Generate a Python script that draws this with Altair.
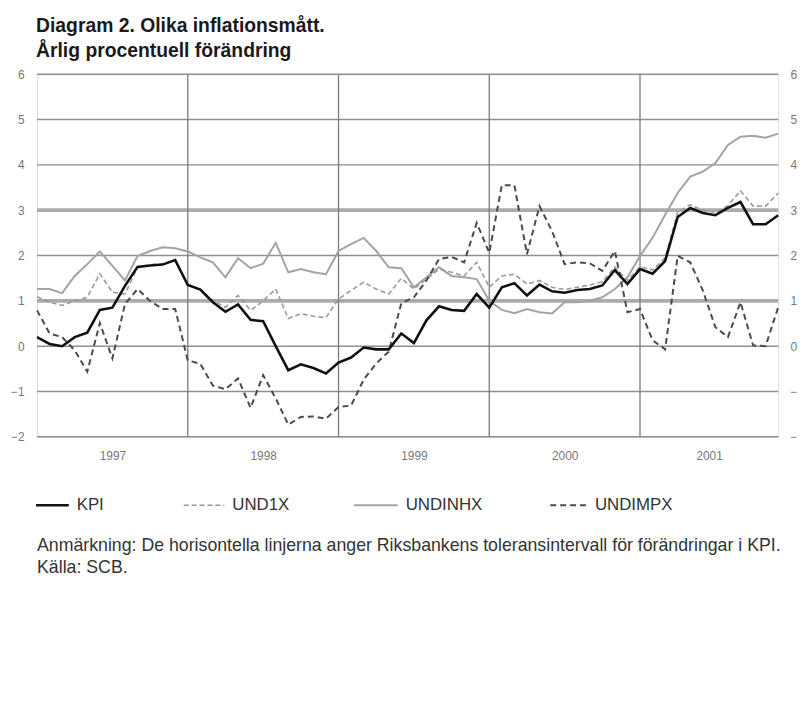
import altair as alt
import pandas as pd

# ---------------- data ----------------
years = [1997, 1998, 1999, 2000, 2001]
series_names = ["KPI", "UND1X", "UNDINHX", "UNDIMPX"]

kpi = [0.20, 0.05, 0.00, 0.20, 0.30, 0.80, 0.85, 1.33, 1.75, 1.78, 1.80, 1.90,
       1.35, 1.25, 0.97, 0.76, 0.92, 0.58, 0.55, 0.00, -0.53, -0.40, -0.48, -0.60,
       -0.36, -0.25, -0.03, -0.07, -0.07, 0.28, 0.07, 0.57, 0.88, 0.80, 0.78, 1.15,
       0.85, 1.30, 1.39, 1.12, 1.36, 1.21, 1.18, 1.24, 1.26, 1.34, 1.68, 1.37,
       1.70, 1.60, 1.88, 2.85, 3.05, 2.94, 2.89, 3.05, 3.18, 2.69, 2.69, 2.89]

und1x = [1.09, 0.97, 0.90, 1.00, 1.08, 1.60, 1.19, 1.15, 1.74, 1.80, 1.82, 1.90,
         1.35, 1.25, 1.00, 0.86, 1.12, 0.79, 1.00, 1.26, 0.61, 0.72, 0.66, 0.63,
         1.04, 1.23, 1.41, 1.26, 1.15, 1.50, 1.26, 1.48, 1.70, 1.63, 1.55, 1.85,
         1.30, 1.55, 1.59, 1.37, 1.45, 1.30, 1.25, 1.30, 1.35, 1.42, 1.75, 1.45,
         1.75, 1.68, 1.95, 2.95, 3.12, 3.00, 2.95, 3.10, 3.43, 3.09, 3.09, 3.38]

undinhx = [1.26, 1.26, 1.17, 1.55, 1.81, 2.09, 1.77, 1.45, 1.99, 2.10, 2.18, 2.16,
           2.09, 1.96, 1.85, 1.52, 1.94, 1.72, 1.82, 2.28, 1.63, 1.70, 1.63, 1.59,
           2.10, 2.25, 2.39, 2.10, 1.74, 1.72, 1.30, 1.52, 1.74, 1.55, 1.52, 1.48,
           1.00, 0.80, 0.73, 0.82, 0.75, 0.72, 0.97, 0.97, 1.00, 1.08, 1.26, 1.52,
           1.99, 2.39, 2.90, 3.38, 3.74, 3.85, 4.04, 4.44, 4.62, 4.64, 4.60, 4.69]

undimpx = [0.79, 0.28, 0.20, -0.09, -0.56, 0.51, -0.27, 0.93, 1.26, 1.00, 0.82, 0.82,
           -0.31, -0.39, -0.87, -0.95, -0.71, -1.36, -0.64, -1.15, -1.73, -1.56, -1.55, -1.60,
           -1.34, -1.31, -0.74, -0.38, -0.12, 0.95, 1.08, 1.45, 1.92, 1.97, 1.85, 2.72,
           2.06, 3.55, 3.55, 2.03, 3.09, 2.54, 1.81, 1.85, 1.83, 1.66, 2.10, 0.75,
           0.82, 0.13, -0.07, 1.99, 1.85, 1.23, 0.42, 0.20, 0.97, 0.02, 0.00, 0.86]

y_ticks = [-2, -1, 0, 1, 2, 3, 4, 5, 6]
tolerance_band = [1, 3]
year_label_pos = [6, 18, 30, 42, 53.5]
year_starts = [12, 24, 36, 48]

title_lines = ["Diagram 2. Olika inflationsmått.", "Årlig procentuell förändring"]
note_lines = ["Anmärkning: De horisontella linjerna anger Riksbankens toleransintervall för förändringar i KPI.",
              "Källa: SCB."]

# ---------------- tables ----------------
n = len(kpi)
all_values = {"KPI": kpi, "UND1X": und1x, "UNDINHX": undinhx, "UNDIMPX": undimpx}
df = pd.DataFrame([
    {"m": i, "serie": s, "value": v}
    for s in series_names for i, v in enumerate(all_values[s])
])

W, H = 748, 366
FONT = "Liberation Sans"
xscale = alt.Scale(domain=[0, n - 1], nice=False, zero=False)
yscale = alt.Scale(domain=[-2, 6], nice=False, zero=False)

styles = {
    "KPI": dict(color="#111111", strokeWidth=2.6),
    "UND1X": dict(color="#9a9a9a", strokeWidth=1.6, strokeDash=[5, 3]),
    "UNDINHX": dict(color="#a3a3a3", strokeWidth=2.0),
    "UNDIMPX": dict(color="#4a4a4a", strokeWidth=2.0, strokeDash=[6, 4]),
}
draw_order = ["UNDINHX", "UND1X", "UNDIMPX", "KPI"]

x_axis = alt.Axis(values=year_label_pos, labelExpr="toString(1997 + floor(datum.value / 12))",
                  domain=False, ticks=False, grid=False, labelFontSize=12, labelColor="#777777",
                  labelPadding=14, labelFont=FONT, title=None)
y_axis_left = alt.Axis(values=y_ticks, domain=False, ticks=False, grid=False, labelFontSize=12,
                       labelColor="#777777", labelPadding=13, labelFont=FONT, title=None, orient="left")
y_axis_right = alt.Axis(values=y_ticks, domain=False, ticks=False, grid=False, labelFontSize=12,
                        labelColor="#777777", labelPadding=12, labelFont=FONT, title=None, orient="right")

X = lambda f: alt.X(f, scale=xscale, axis=x_axis)
Y = lambda f: alt.Y(f, scale=yscale, axis=y_axis_left)

grid = alt.Chart(pd.DataFrame({"v": y_ticks})).mark_rule(color="#8f8f8f", strokeWidth=1.5).encode(
    y=Y("v:Q"))
band = alt.Chart(pd.DataFrame({"v": tolerance_band})).mark_rule(color="#ababab", strokeWidth=3.8).encode(
    y=Y("v:Q"))
vlines = alt.Chart(pd.DataFrame({"m": year_starts})).mark_rule(color="#7a7a7a", strokeWidth=1.3).encode(
    x=X("m:Q"))

lines = []
for s in draw_order:
    lines.append(
        alt.Chart(df).transform_filter(alt.datum.serie == s)
        .mark_line(**styles[s], strokeJoin="miter")
        .encode(x=X("m:Q"), y=Y("value:Q"))
    )

main = alt.layer(grid, band, vlines, *lines)

right_axis = alt.Chart(pd.DataFrame({"v": y_ticks})).mark_point(opacity=0).encode(
    y=alt.Y("v:Q", scale=yscale, axis=y_axis_right))

# ---------------- text: title, legend, notes ----------------
def text_layer(txt, x, y, size, weight="normal", color="#222222"):
    return alt.Chart(pd.DataFrame({"t": [txt]})).mark_text(
        align="left", baseline="alphabetic", fontSize=size, fontWeight=weight,
        color=color, font=FONT).encode(x=alt.value(x), y=alt.value(y), text="t:N")

texts = [
    text_layer(title_lines[0], -1, -43, 19.5, "bold", "#1a1a1a"),
    text_layer(title_lines[1], -1, -17, 19.5, "bold", "#1a1a1a"),
    text_layer(note_lines[0], 0, 481, 17.9, color="#333333"),
    text_layer(note_lines[1], 0, 503, 17.9, color="#333333"),
]

leg_marker = [(-1, 32), (148, 189), (320, 364), (518, 555)]
leg_text_x = [40, 197, 372, 563]
leg_y = 435
legend_layers = []
for s, (a, b), tx in zip(series_names, leg_marker, leg_text_x):
    legend_layers.append(
        alt.Chart(pd.DataFrame({"k": [s]})).mark_rule(**styles[s]).encode(
            x=alt.value(a), x2=alt.value(b), y=alt.value(leg_y)))
    legend_layers.append(
        alt.Chart(pd.DataFrame({"t": [s]})).mark_text(
            align="left", baseline="middle", fontSize=17, color="#333333", font=FONT).encode(
            x=alt.value(tx), y=alt.value(leg_y), text="t:N"))

chart = alt.layer(main, right_axis, *texts, *legend_layers).resolve_scale(y="independent").properties(
    width=W, height=H,
    autosize=alt.AutoSizeParams(type="none"),
    padding={"left": 29.3, "top": 64, "right": 20, "bottom": 180},
).configure_view(stroke="#8a8a8a", strokeWidth=1.5).configure(background="white")

chart.save("out.html", embed_options={"renderer": "svg", "actions": False})
